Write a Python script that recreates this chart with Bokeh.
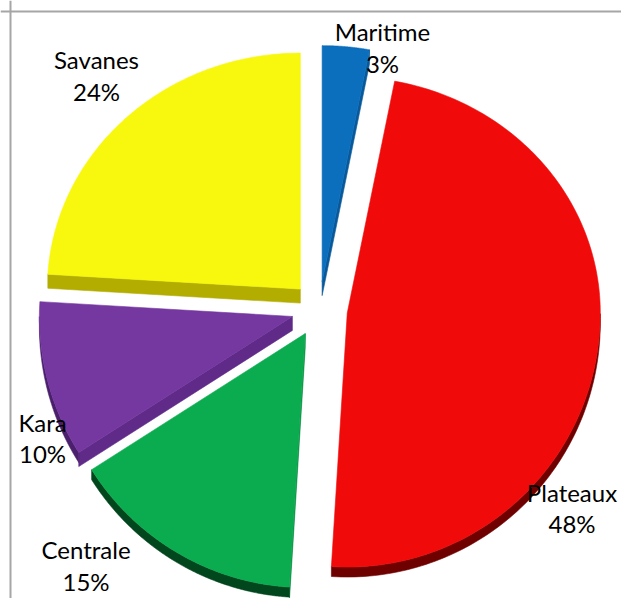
import numpy as np
from bokeh.plotting import figure
from bokeh.models import Range1d, Span
from bokeh.core.properties import value
from bokeh.embed import file_html
from bokeh.resources import INLINE

# ---------------- data ----------------
regions = ["Maritime", "Plateaux", "Centrale", "Kara", "Savanes"]
shares = [3, 48, 15, 10, 24]
pct_labels = ["3%", "48%", "15%", "10%", "24%"]

# ---------------- styles ----------------
top_colors = ["#0b6fbe", "#f00a0a", "#0bac50", "#7538a0", "#f8f80e"]
radial_colors = ["#09599a", "#b00000", "#078a3e", "#5f2a88", "#b3ad00"]
outer_colors = ["#063d6b", "#6e0000", "#02461d", "#4a1f6c", "#8a8500"]

# ---------------- layout ----------------
RX, RY_TOP, RY_BOT = 253, 236, 254   # slightly perspective ellipse
EXPLODE = 28
H_RADIAL, H_OUTER = 14, 10
label_x = [63, 252.5, -233.5, -277, -223]
label_y = [278, -182.7, -240.3, -112.5, 249.7]
LINE_GAP = 31.5
FONT = "Lato"
FONT_SIZE = "24px"

p = figure(width=621, height=598, output_backend="svg", toolbar_location=None,
           x_range=Range1d(-319, 302), y_range=Range1d(-289, 309),
           x_axis_type=None, y_axis_type=None, min_border=0,
           outline_line_color=None, background_fill_color="white")
p.grid.visible = False

total = float(sum(shares))
frac = np.array(shares, dtype=float) / total
ends = np.cumsum(frac)
starts = ends - frac

face_xs, face_ys, face_col = [], [], []
side_xs, side_ys, side_col = [], [], []

for i in range(len(shares)):
    a0 = np.pi / 2 - 2 * np.pi * starts[i]
    a1 = np.pi / 2 - 2 * np.pi * ends[i]
    mid = (a0 + a1) / 2
    ax, ay = EXPLODE * np.cos(mid), EXPLODE * np.sin(mid)
    th = np.linspace(a0, a1, 160)
    s = np.sin(th)
    px = ax + RX * np.cos(th)
    py = ay + s * np.where(s > 0, RY_TOP, RY_BOT)

    face_xs.append([ax] + list(px))
    face_ys.append([ay] + list(py))
    face_col.append(top_colors[i])

    # radial edge apex -> first arc point
    if px[0] - ax < -1e-9:
        side_xs.append([ax, px[0], px[0], ax])
        side_ys.append([ay, py[0], py[0] - H_RADIAL, ay - H_RADIAL])
        side_col.append(radial_colors[i])
    # radial edge last arc point -> apex
    if ax - px[-1] < -1e-9:
        side_xs.append([px[-1], ax, ax, px[-1]])
        side_ys.append([py[-1], ay, ay - H_RADIAL, py[-1] - H_RADIAL])
        side_col.append(radial_colors[i])
    # outer arc, downward-facing runs
    down = np.diff(px) < 0
    k = 0
    n = len(down)
    while k < n:
        if down[k]:
            j = k
            while j < n and down[j]:
                j += 1
            rx_ = px[k:j + 1]
            ry_ = py[k:j + 1]
            side_xs.append(list(rx_) + list(rx_[::-1]))
            side_ys.append(list(ry_) + list((ry_ - H_OUTER)[::-1]))
            side_col.append(outer_colors[i])
            k = j
        else:
            k += 1

p.patches(side_xs, side_ys, fill_color=side_col, line_color=side_col, line_width=0.6)
p.patches(face_xs, face_ys, fill_color=face_col, line_color=face_col, line_width=0.6)

ly2 = [y - LINE_GAP for y in label_y]
p.text(label_x, label_y, text=regions, text_font=value(FONT), text_font_size=value(FONT_SIZE),
       text_align="center", text_baseline="alphabetic", text_color="#000000")
p.text(label_x, ly2, text=pct_labels, text_font=value(FONT), text_font_size=value(FONT_SIZE),
       text_align="center", text_baseline="alphabetic", text_color="#000000")

p.add_layout(Span(location=-309, dimension="height", line_color="#a6a6a6", line_width=2))
p.add_layout(Span(location=298, dimension="width", line_color="#a6a6a6", line_width=2))

open("out.html", "w").write(file_html(p, INLINE))
